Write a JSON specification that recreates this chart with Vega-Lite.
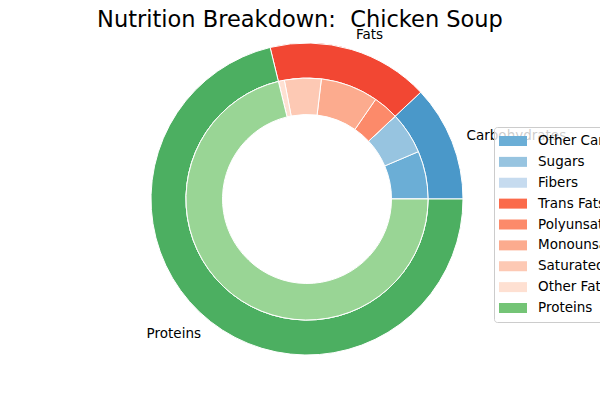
{
  "$schema": "https://vega.github.io/schema/vega-lite/v6.json",
  "width": 586,
  "height": 398,
  "autosize": {"type": "none"},
  "padding": {"left": 14, "top": 0, "right": 0, "bottom": 0},
  "background": "white",
  "title": {
    "text": "Nutrition Breakdown:\u00a0 Chicken Soup",
    "font": "DejaVu Sans",
    "fontSize": 22.5,
    "fontWeight": "normal",
    "color": "black",
    "anchor": "middle",
    "frame": "group",
    "baseline": "alphabetic",
    "offset": -27,
    "dx": -7,
    "dy": 22
  },
  "config": {
    "view": {"stroke": null},
    "font": "DejaVu Sans"
  },
  "datasets": {
    "outer": [
      {"cat": "Carbohydrates", "v": 12.0, "i": 1},
      {"cat": "Fats", "v": 16.8, "i": 2},
      {"cat": "Proteins", "v": 71.2, "i": 3}
    ],
    "inner": [
      {"cat": "Other Carbs", "v": 6.4, "i": 1},
      {"cat": "Sugars", "v": 5.6, "i": 2},
      {"cat": "Fibers", "v": 0, "i": 3},
      {"cat": "Trans Fats", "v": 0, "i": 4},
      {"cat": "Polyunsaturated Fats", "v": 3.4, "i": 5},
      {"cat": "Monounsaturated Fats", "v": 7.7, "i": 6},
      {"cat": "Saturated Fats", "v": 4.9, "i": 7},
      {"cat": "Other Fats", "v": 0.8, "i": 8},
      {"cat": "Proteins", "v": 71.2, "i": 9}
    ]
  },
  "layer": [
    {
      "data": {"name": "outer"},
      "mark": {"type": "arc", "outerRadius": 156, "innerRadius": 121, "stroke": "white", "strokeWidth": 1},
      "encoding": {
        "theta": {"field": "v", "type": "quantitative", "stack": true, "scale": {"domain": [0, 100], "range": [1.5707963, -4.712389]}},
        "order": {"field": "i", "type": "quantitative"},
        "fill": {
          "field": "cat", "type": "nominal", "legend": null,
          "scale": {"domain": ["Carbohydrates", "Fats", "Proteins"], "range": ["#4a98c9", "#f24733", "#4caf61"]}
        }
      }
    },
    {
      "data": {"name": "inner"},
      "transform": [
        {"stack": "v", "groupby": [], "sort": [{"field": "i", "order": "ascending"}], "as": ["s0", "s1"]}
      ],
      "layer": [
        {
          "mark": {"type": "arc", "outerRadius": 121, "innerRadius": 84.5, "stroke": "white", "strokeWidth": 1},
          "encoding": {
            "theta": {"field": "s0", "type": "quantitative"},
            "theta2": {"field": "s1"},
            "color": {
              "field": "cat", "type": "nominal",
              "scale": {
                "domain": ["Other Carbs", "Sugars", "Fibers", "Trans Fats", "Polyunsaturated Fats", "Monounsaturated Fats", "Saturated Fats", "Other Fats", "Proteins"],
                "range": ["#6baed6", "#97c4e0", "#c6dbef", "#fb6a4a", "#fc8a6a", "#fcab8e", "#fdc9b4", "#fee0d2", "#74c476"]
              },
              "legend": {
                "title": null,
                "orient": "none",
                "legendX": 480,
                "legendY": 127,
                "padding": 7,
                "fillColor": "rgba(255,255,255,0.8)",
                "strokeColor": "#cccccc",
                "cornerRadius": 3,
                "symbolType": "M-2,-0.714H2V0.714H-2Z",
                "symbolSize": 196,
                "symbolStrokeWidth": 0,
                "symbolOpacity": 1,
                "symbolOffset": 5,
                "rowPadding": 6.875,
                "labelFont": "DejaVu Sans",
                "labelFontSize": 13.5,
                "labelColor": "black",
                "labelOffset": 18,
                "labelLimit": 300
              }
            }
          }
        },
        {
          "transform": [{"filter": "datum.cat === 'Proteins'"}],
          "mark": {"type": "arc", "outerRadius": 121, "innerRadius": 84.5, "stroke": "white", "strokeWidth": 1, "fill": "#99d595"},
          "encoding": {
            "theta": {"field": "s0", "type": "quantitative"},
            "theta2": {"field": "s1"}
          }
        }
      ]
    },
    {
      "data": {"name": "outer"},
      "mark": {
        "type": "text", "radius": 171.6, "baseline": "middle", "font": "DejaVu Sans", "fontSize": 13.5, "color": "black",
        "align": {"expr": "datum.cat === 'Proteins' ? 'right' : 'left'"}
      },
      "encoding": {
        "theta": {"field": "v", "type": "quantitative", "stack": true},
        "order": {"field": "i", "type": "quantitative"},
        "text": {"field": "cat", "type": "nominal"}
      }
    }
  ],
  "resolve": {"scale": {"fill": "independent", "theta": "shared"}}
}
